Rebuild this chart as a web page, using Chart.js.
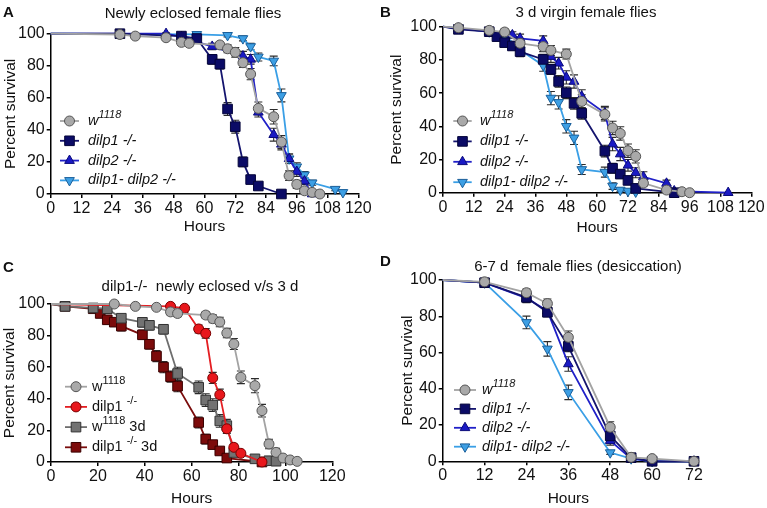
<!DOCTYPE html>
<html>
<head>
<meta charset="utf-8">
<script src="https://cdn.jsdelivr.net/npm/chart.js@4.4.1/dist/chart.umd.min.js"></script>
<style>
  html, body { margin: 0; padding: 0; background: #fff; }
  #wrap { position: relative; width: 767px; height: 508px; overflow: hidden; }
  canvas { position: absolute; }
</style>
</head>
<body>
<div id="wrap">
  <canvas id="cA" width="384" height="254" style="left:0;top:0"></canvas>
  <canvas id="cB" width="389" height="254" style="left:378px;top:0"></canvas>
  <canvas id="cC" width="384" height="254" style="left:0;top:254px"></canvas>
  <canvas id="cD" width="389" height="254" style="left:378px;top:254px"></canvas>
</div>
<script>
// ---- data (hours, percent survival, error) ----
// A: newly eclosed female flies
const hA_w = [0, 27, 33, 45, 51, 54, 66, 69, 72, 75, 78, 81, 87, 90, 93, 96, 99, 102, 105];
const vA_w = [100, 99.5, 98.5, 97.5, 94.6, 94, 93, 90.6, 88.4, 81.9, 74.8, 53.4, 48.2, 32.4, 11.4, 6, 2, 1, 0];
const eA_w = [0, 1, 1, 1.5, 2, 2, 2, 2.5, 3, 3, 3.5, 4, 4.5, 4, 3, 2.5, 1.5, 1, 0];
const hA_1 = [0, 27, 51, 57, 63, 66, 69, 72, 75, 78, 81, 90];
const vA_1 = [100, 100, 98.5, 97, 84, 81, 53, 42, 20, 9, 5, 0];
const eA_1 = [0, 1, 1, 1.5, 3, 3, 4, 4, 3, 2, 1, 0];
const hA_2 = [0, 45, 51, 63, 75, 78, 81, 87, 90, 93, 96, 99, 102];
const vA_2 = [100, 100, 98, 92, 86, 84, 51, 37, 31, 22, 14, 8, 0];
const eA_2 = [0, 0.5, 1, 2, 3, 3, 3, 4, 3.5, 3, 3, 2, 0];
const hA_12 = [0, 57, 69, 75, 78, 81, 87, 90, 93, 96, 99, 102, 111, 114];
const vA_12 = [100, 99.6, 99, 97, 92, 85.5, 83, 61.5, 22, 17, 12, 7, 3, 1];
const eA_12 = [0, 0.5, 1, 1.5, 2, 2.5, 3, 4, 3, 2.5, 2, 1.5, 1, 0.5];

// B: 3 d virgin female flies
const hB_w = [0, 6, 18, 24, 30, 39, 42, 48, 54, 63, 66, 69, 72, 75, 78, 87, 93, 96];
const vB_w = [100, 99.4, 97.8, 96.8, 90, 88, 85.7, 83.5, 55, 47.2, 39, 35.7, 25.3, 21.9, 5.8, 1.6, 0.6, 0];
const eB_w = [0, 1, 1.5, 2, 2, 3, 3, 3, 4, 4, 4, 4, 4, 4, 2, 1, 0.5, 0];
const hB_1 = [0, 6, 18, 21, 24, 27, 30, 39, 42, 45, 48, 51, 54, 63, 66, 69, 72, 75, 90];
const vB_1 = [100, 98.4, 97, 94, 90.4, 88.4, 85, 80.3, 74.3, 67, 60.2, 53.8, 47.8, 25.1, 14.7, 11.2, 7.4, 2.6, 0];
const eB_1 = [0, 1, 1.5, 2, 2.5, 2.5, 3, 3, 3, 3.5, 3.5, 3.5, 3.5, 3.5, 3, 2.5, 2, 1.5, 0];
const hB_2 = [0, 6, 18, 24, 27, 30, 39, 42, 45, 48, 51, 54, 63, 66, 69, 72, 75, 78, 87, 90, 111];
const vB_2 = [100, 99, 97, 96, 95, 93, 91.5, 82, 78, 69.5, 67, 58, 48, 29.3, 23.3, 16.5, 12, 9.6, 5.6, 1, 0];
const eB_2 = [0, 1, 1.5, 2, 2, 2.5, 3, 3.5, 3.5, 4, 4, 4, 4, 4, 4, 3.5, 3, 3, 2, 1, 0];
const hB_12 = [0, 6, 18, 24, 30, 39, 42, 45, 48, 51, 54, 63, 66, 69, 72, 75];
const vB_12 = [100, 99, 97, 95, 86, 76.7, 57, 54.4, 40, 33, 14, 12.4, 4, 1.6, 1, 0.5];
const eB_12 = [0, 1, 1.5, 2, 2.5, 3.5, 4, 4, 4, 4, 3, 3, 2, 1, 1, 0.5];

// C: dilp1-/- newly eclosed v/s 3 d
const hC_w = [0, 27, 36, 45, 51, 54, 66, 69, 72, 75, 78, 81, 87, 90, 93, 96, 99, 102, 105];
const vC_w = [100, 100, 98.5, 97.9, 95, 94, 93, 90.7, 88.6, 81.6, 74.7, 53.6, 48.3, 32.5, 11.4, 6.1, 2.5, 1.3, 0.4];
const eC_w = [0, 1, 1, 1.5, 2, 2, 2, 2.5, 3, 3, 3.5, 4, 4.5, 4, 3, 2.5, 1.5, 1, 0];
const hC_1 = [0, 51, 57, 63, 66, 69, 72, 75, 78, 81, 90];
const vC_1 = [100, 98.5, 97.3, 84.2, 81.4, 53.2, 42.6, 21, 9.3, 5.5, 0];
const eC_1 = [0, 1, 1, 2.5, 3, 3.5, 3.5, 3, 2, 1, 0];
const hC_w3 = [0, 6, 18, 24, 30, 39, 42, 48, 54, 63, 66, 69, 72, 75, 78, 87, 93, 96];
const vC_w3 = [100, 98.5, 97.5, 97, 91, 88.4, 86.5, 84, 56, 47.3, 39.2, 36, 26, 23, 6, 2, 0.8, 0.5];
const eC_w3 = [0, 1, 1.5, 2, 2, 3, 3, 3, 4, 4, 4, 4, 4, 4, 2, 1, 0.5, 0];
const hC_13 = [0, 6, 18, 21, 24, 27, 30, 39, 42, 45, 48, 51, 54, 63, 66, 69, 72, 75, 90];
const vC_13 = [100, 98.5, 97, 94, 90, 88.5, 86, 80.5, 74.5, 67, 60, 54, 48, 25, 14.5, 11, 7, 2.5, 0];
const eC_13 = [0, 1, 1.5, 2, 2.5, 2.5, 3, 3, 3, 3.5, 3.5, 3.5, 3.5, 3.5, 3, 2.5, 2, 1.5, 0];

// D: 6-7 d female flies (desiccation)
const hD = [0, 12, 24, 30, 36, 48, 54, 60, 72];
const vD_w = [100, 99, 93, 87, 68.4, 18.8, 2.2, 1.5, 0];
const eD_w = [0, 2, 2, 2.5, 3.5, 3, 1, 0.5, 0];
const vD_1 = [100, 98.5, 90.4, 82.2, 63.4, 14, 2, 0, 0];
const eD_1 = [0, 1.5, 2.5, 2.5, 3, 2, 1, 0, 0];
const vD_2 = [100, 98.5, 90, 83, 53.7, 11.4, 1.5, 0, 0];
const eD_2 = [0, 1.5, 2.5, 3, 4, 2.5, 1, 0, 0];
const vD_12 = [100, 98.5, 76.6, 62, 38, 4.8, 1.5, 0, 0];
const eD_12 = [0, 1.5, 3.5, 4, 4, 1, 0.5, 0, 0];

// legend labels: [text, superscript?]
const labW = [['w', 0], ['1118', 1]];
const labD1 = [['dilp1 -/-', 0]];
const labD2 = [['dilp2 -/-', 0]];
const labD12 = [['dilp1- dilp2 -/-', 0]];
const labCw = [['w', 0], ['1118', 1]];
const labC1 = [['dilp1 ', 0], ['-/-', 1]];
const labCw3 = [['w', 0], ['1118', 1], [' 3d', 0]];
const labC13 = [['dilp1 ', 0], ['-/-', 1], [' 3d', 0]];

// ---- styles ----
const FONT = '"Liberation Sans", Arial, Helvetica, sans-serif';
const ST = {
  gray:  { line: '#a3a3a3', fill: '#a9a9a9', edge: '#555', shape: 'circle', r: 5 },
  navy:  { line: '#14146e', fill: '#0b0b66', edge: '#05053a', shape: 'rect', r: 6.8 },
  blue:  { line: '#2020c8', fill: '#1a1ac4', edge: '#0a0a7a', shape: 'triangle', r: 5.6 },
  lblue: { line: '#3a9fe6', fill: '#3d9fe4', edge: '#1a5f9a', shape: 'triangle', rot: 180, r: 5.6 },
  red:   { line: '#e41e22', fill: '#e8171c', edge: '#7a0000', shape: 'circle', r: 5 },
  dgray: { line: '#6e6e6e', fill: '#727272', edge: '#333', shape: 'rect', r: 6.8 },
  dred:  { line: '#7a0c0c', fill: '#7c0b0b', edge: '#3a0000', shape: 'rect', r: 6.8 }
};

function pts(h, v) { return h.map((x, i) => ({ x: x, y: v[i] })); }

function drawMarker(ctx, st, x, y) {
  ctx.save();
  ctx.fillStyle = st.fill;
  ctx.strokeStyle = st.edge;
  ctx.lineWidth = 1;
  Chart.helpers.drawPoint(ctx, { pointStyle: st.shape, rotation: st.rot || 0, radius: st.r, borderWidth: 1 }, x, y);
  ctx.restore();
}

function drawParts(ctx, parts, x, y, italic) {
  let cx = x;
  parts.forEach(([t, sup]) => {
    ctx.font = (italic ? 'italic ' : '') + (sup ? 11 : 14.5) + 'px ' + FONT;
    ctx.fillText(t, cx, sup ? y - 6 : y);
    cx += ctx.measureText(t).width;
  });
}

function makePanel(id, cfg) {
  const panel = {
    id: 'panel',
    beforeDatasetsDraw(chart) {
      // error bars
      const ctx = chart.ctx, xs = chart.scales.x, ys = chart.scales.y;
      ctx.save();
      ctx.strokeStyle = '#2b2b2b';
      ctx.lineWidth = 1.1;
      chart.data.datasets.forEach(ds => {
        ds.data.forEach((p, i) => {
          const e = ds.errors[i];
          if (!e) return;
          const px = xs.getPixelForValue(p.x);
          const t = ys.getPixelForValue(p.y + e), b = ys.getPixelForValue(Math.max(p.y - e, 0));
          ctx.beginPath();
          ctx.moveTo(px, t); ctx.lineTo(px, b);
          ctx.moveTo(px - 4, t); ctx.lineTo(px + 4, t);
          ctx.moveTo(px - 4, b); ctx.lineTo(px + 4, b);
          ctx.stroke();
        });
      });
      ctx.restore();
    },
    afterDraw(chart) {
      const ctx = chart.ctx;
      ctx.save();
      ctx.fillStyle = '#111';
      ctx.textBaseline = 'middle';
      // panel letter
      ctx.font = 'bold 15px ' + FONT;
      ctx.textAlign = 'left';
      ctx.fillText(cfg.letter, cfg.letterPos[0], cfg.letterPos[1]);
      // title
      ctx.font = '15px ' + FONT;
      ctx.textAlign = 'center';
      ctx.fillText(cfg.title, cfg.titlePos[0], cfg.titlePos[1]);
      // legend
      ctx.textAlign = 'left';
      const L = cfg.legend;
      cfg.series.forEach((s, i) => {
        const y = L.y0 + i * L.dy;
        ctx.strokeStyle = s.st.line;
        ctx.lineWidth = 1.8;
        ctx.beginPath(); ctx.moveTo(L.x0, y); ctx.lineTo(L.x1, y); ctx.stroke();
        drawMarker(ctx, s.st, (L.x0 + L.x1) / 2, y);
        ctx.fillStyle = '#111';
        drawParts(ctx, s.label, L.tx, y, cfg.italic);
      });
      ctx.restore();
    }
  };

  const tickFont = { family: FONT, size: 16 };
  const titleFont = { family: FONT, size: 15.5 };

  new Chart(document.getElementById(id), {
    type: 'line',
    data: {
      datasets: cfg.series.map(s => ({
        label: s.label.map(p => p[0]).join(''),
        data: pts(s.h, s.v),
        errors: s.e,
        borderColor: s.st.line,
        backgroundColor: s.st.fill,
        pointBackgroundColor: s.st.fill,
        pointBorderColor: s.st.edge,
        pointBorderWidth: 1,
        pointStyle: s.st.shape,
        pointRotation: s.st.rot || 0,
        pointRadius: c => (c.dataIndex === 0 ? 0 : s.st.r),
        borderWidth: 1.8,
        tension: 0,
        fill: false,
        clip: false
      }))
    },
    options: {
      responsive: false,
      animation: false,
      events: [],
      layout: { padding: cfg.pad },
      plugins: { legend: { display: false }, tooltip: { enabled: false }, title: { display: false } },
      scales: {
        x: {
          type: 'linear', min: 0, max: cfg.xMax,
          ticks: { stepSize: cfg.xStep, font: tickFont, color: '#111', padding: 1, maxRotation: 0, autoSkip: false },
          grid: { drawOnChartArea: false, drawTicks: true, tickLength: 4, color: '#000', lineWidth: 1.5 },
          border: { color: '#000', width: 1.5 },
          title: { display: true, text: 'Hours', font: titleFont, color: '#111', padding: { top: 0, bottom: cfg.hoursPad } },
          afterFit: s => { s.height = cfg.xH; }
        },
        y: {
          min: 0, max: 100,
          ticks: { stepSize: 20, font: tickFont, color: '#111', padding: 2 },
          grid: { drawOnChartArea: false, drawTicks: true, tickLength: 4, color: '#000', lineWidth: 1.5 },
          border: { color: '#000', width: 1.5 },
          title: { display: true, text: 'Percent survival', font: titleFont, color: '#111', padding: { top: cfg.yTitlePad, bottom: 0 } },
          afterFit: s => { s.width = cfg.yW; }
        }
      }
    },
    plugins: [panel]
  });
}

makePanel('cA', {
  letter: 'A', letterPos: [3, 13], title: 'Newly eclosed female flies', titlePos: [193, 14],
  xMax: 120, xStep: 12, italic: true,
  pad: { top: 33.7, right: 25.7, left: 0, bottom: 0 }, yW: 50.7, xH: 60, hoursPad: 17.7, yTitlePad: 1.7,
  legend: { x0: 60, x1: 79, tx: 88, y0: 121, dy: 19.8 },
  series: [
    { h: hA_w, v: vA_w, e: eA_w, st: ST.gray, label: labW },
    { h: hA_1, v: vA_1, e: eA_1, st: ST.navy, label: labD1 },
    { h: hA_2, v: vA_2, e: eA_2, st: ST.blue, label: labD2 },
    { h: hA_12, v: vA_12, e: eA_12, st: ST.lblue, label: labD12 }
  ]
});

makePanel('cB', {
  letter: 'B', letterPos: [2, 12.5], title: '3 d virgin female flies', titlePos: [208, 13],
  xMax: 120, xStep: 12, italic: true,
  pad: { top: 26.7, right: 15.7, left: 0, bottom: 0 }, yW: 65, xH: 61.3, hoursPad: 16.7, yTitlePad: 9.7,
  legend: { x0: 75.3, x1: 93.7, tx: 102, y0: 121, dy: 20.4 },
  series: [
    { h: hB_w, v: vB_w, e: eB_w, st: ST.gray, label: labW },
    { h: hB_1, v: vB_1, e: eB_1, st: ST.navy, label: labD1 },
    { h: hB_2, v: vB_2, e: eB_2, st: ST.blue, label: labD2 },
    { h: hB_12, v: vB_12, e: eB_12, st: ST.lblue, label: labD12 }
  ]
});

makePanel('cC', {
  letter: 'C', letterPos: [3, 13.5], title: 'dilp1-/-  newly eclosed v/s 3 d', titlePos: [200, 33],
  xMax: 120, xStep: 20, italic: false,
  pad: { top: 50, right: 51.7, left: 0, bottom: 0 }, yW: 51, xH: 46, hoursPad: 0, yTitlePad: 0.7,
  legend: { x0: 65, x1: 87, tx: 92, y0: 132.7, dy: 20.2 },
  series: [
    { h: hC_w, v: vC_w, e: eC_w, st: ST.gray, label: labCw },
    { h: hC_1, v: vC_1, e: eC_1, st: ST.red, label: labC1 },
    { h: hC_w3, v: vC_w3, e: eC_w3, st: ST.dgray, label: labCw3 },
    { h: hC_13, v: vC_13, e: eC_13, st: ST.dred, label: labC13 }
  ]
});

makePanel('cD', {
  letter: 'D', letterPos: [2, 8], title: '6-7 d  female flies (desiccation)', titlePos: [200, 13.3],
  xMax: 72, xStep: 12, italic: true,
  pad: { top: 26, right: 73, left: 0, bottom: 0 }, yW: 64.7, xH: 46.7, hoursPad: 0, yTitlePad: 20,
  legend: { x0: 76, x1: 98, tx: 104, y0: 136, dy: 18.9 },
  series: [
    { h: hD, v: vD_w, e: eD_w, st: ST.gray, label: labW },
    { h: hD, v: vD_1, e: eD_1, st: ST.navy, label: labD1 },
    { h: hD, v: vD_2, e: eD_2, st: ST.blue, label: labD2 },
    { h: hD, v: vD_12, e: eD_12, st: ST.lblue, label: labD12 }
  ]
});
</script>
</body>
</html>
